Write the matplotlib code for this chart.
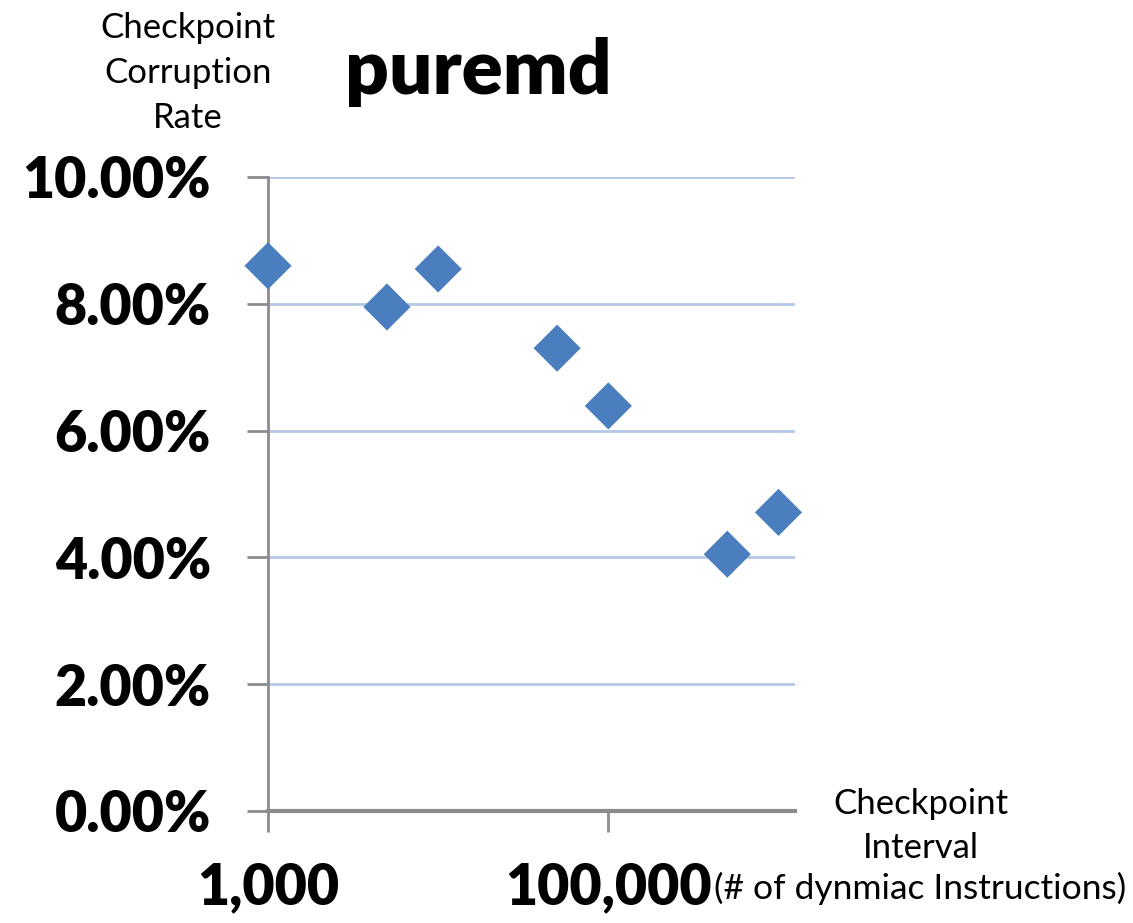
import matplotlib
matplotlib.use("Agg")
import matplotlib.pyplot as plt
from matplotlib.ticker import FixedLocator, FuncFormatter, NullLocator

# Checkpoint interval (dynamic instructions) vs. checkpoint corruption rate
intervals = [1000, 5000, 10000, 50000, 100000, 500000, 1000000]
corruption_rate = [0.0860, 0.0795, 0.0855, 0.0730, 0.0639, 0.0405, 0.0471]

x_ticks = [1000, 100000]
y_ticks = [0.0, 0.02, 0.04, 0.06, 0.08, 0.10]

title = "puremd"
y_label = "Checkpoint\nCorruption\nRate"
x_label_top = "Checkpoint\nInterval"
x_label_unit = "(# of dynmiac Instructions)"

W, H, DPI = 1133, 923, 100
fig = plt.figure(figsize=(W / DPI, H / DPI), dpi=DPI)
fig.patch.set_facecolor("white")

ax = fig.add_axes([268 / W, 1 - 811 / H, (795 - 268) / W, (811 - 177) / H])
ax.set_xscale("log")
ax.set_xlim(1000, 1.25e6)
ax.set_ylim(0, 0.10)

# horizontal gridlines
ax.yaxis.grid(True, color="#B3C8E6", linewidth=2.0)
ax.xaxis.grid(False)
ax.set_axisbelow(True)

ax.scatter(intervals, corruption_rate, marker="D", s=24 ** 2,
           color="#4A7EBF", edgecolors="none", zorder=3, clip_on=False)

for side in ("top", "right"):
    ax.spines[side].set_visible(False)
ax.spines["left"].set_color("#8C8C8C")
ax.spines["left"].set_linewidth(2.0)
ax.spines["bottom"].set_color("#8C8C8C")
ax.spines["bottom"].set_linewidth(3.0)

ax.xaxis.set_major_locator(FixedLocator(x_ticks))
ax.xaxis.set_minor_locator(NullLocator())
ax.xaxis.set_major_formatter(FuncFormatter(lambda v, p: f"{int(round(v)):,}"))
ax.yaxis.set_major_locator(FixedLocator(y_ticks))
ax.yaxis.set_major_formatter(FuncFormatter(lambda v, p: f"{v * 100:.2f}%"))

ax.tick_params(axis="both", direction="out", length=15, width=2,
               color="#8C8C8C")
ax.tick_params(axis="x", pad=21)
ax.tick_params(axis="y", pad=26)
for lab in ax.get_xticklabels() + ax.get_yticklabels():
    lab.set_fontfamily("Lato")
    lab.set_fontweight("heavy")
    lab.set_fontsize(40)

fig.text(478 / W, 1 - 72 / H, title, ha="center", va="center",
         fontfamily="Lato", fontweight="heavy", fontsize=55)

fig.text(188 / W, 1 - 73 / H, y_label, ha="center", va="center",
         fontfamily="Lato", fontsize=25, linespacing=1.49)

fig.text(921 / W, 1 - 826 / H, x_label_top, ha="center", va="center",
         fontfamily="Lato", fontsize=25, linespacing=1.49)
fig.text(1126 / W, 1 - 888 / H, x_label_unit, ha="right",
         va="center", fontfamily="Lato", fontsize=25.5)

fig.savefig("out.png", dpi=DPI, facecolor="white")
